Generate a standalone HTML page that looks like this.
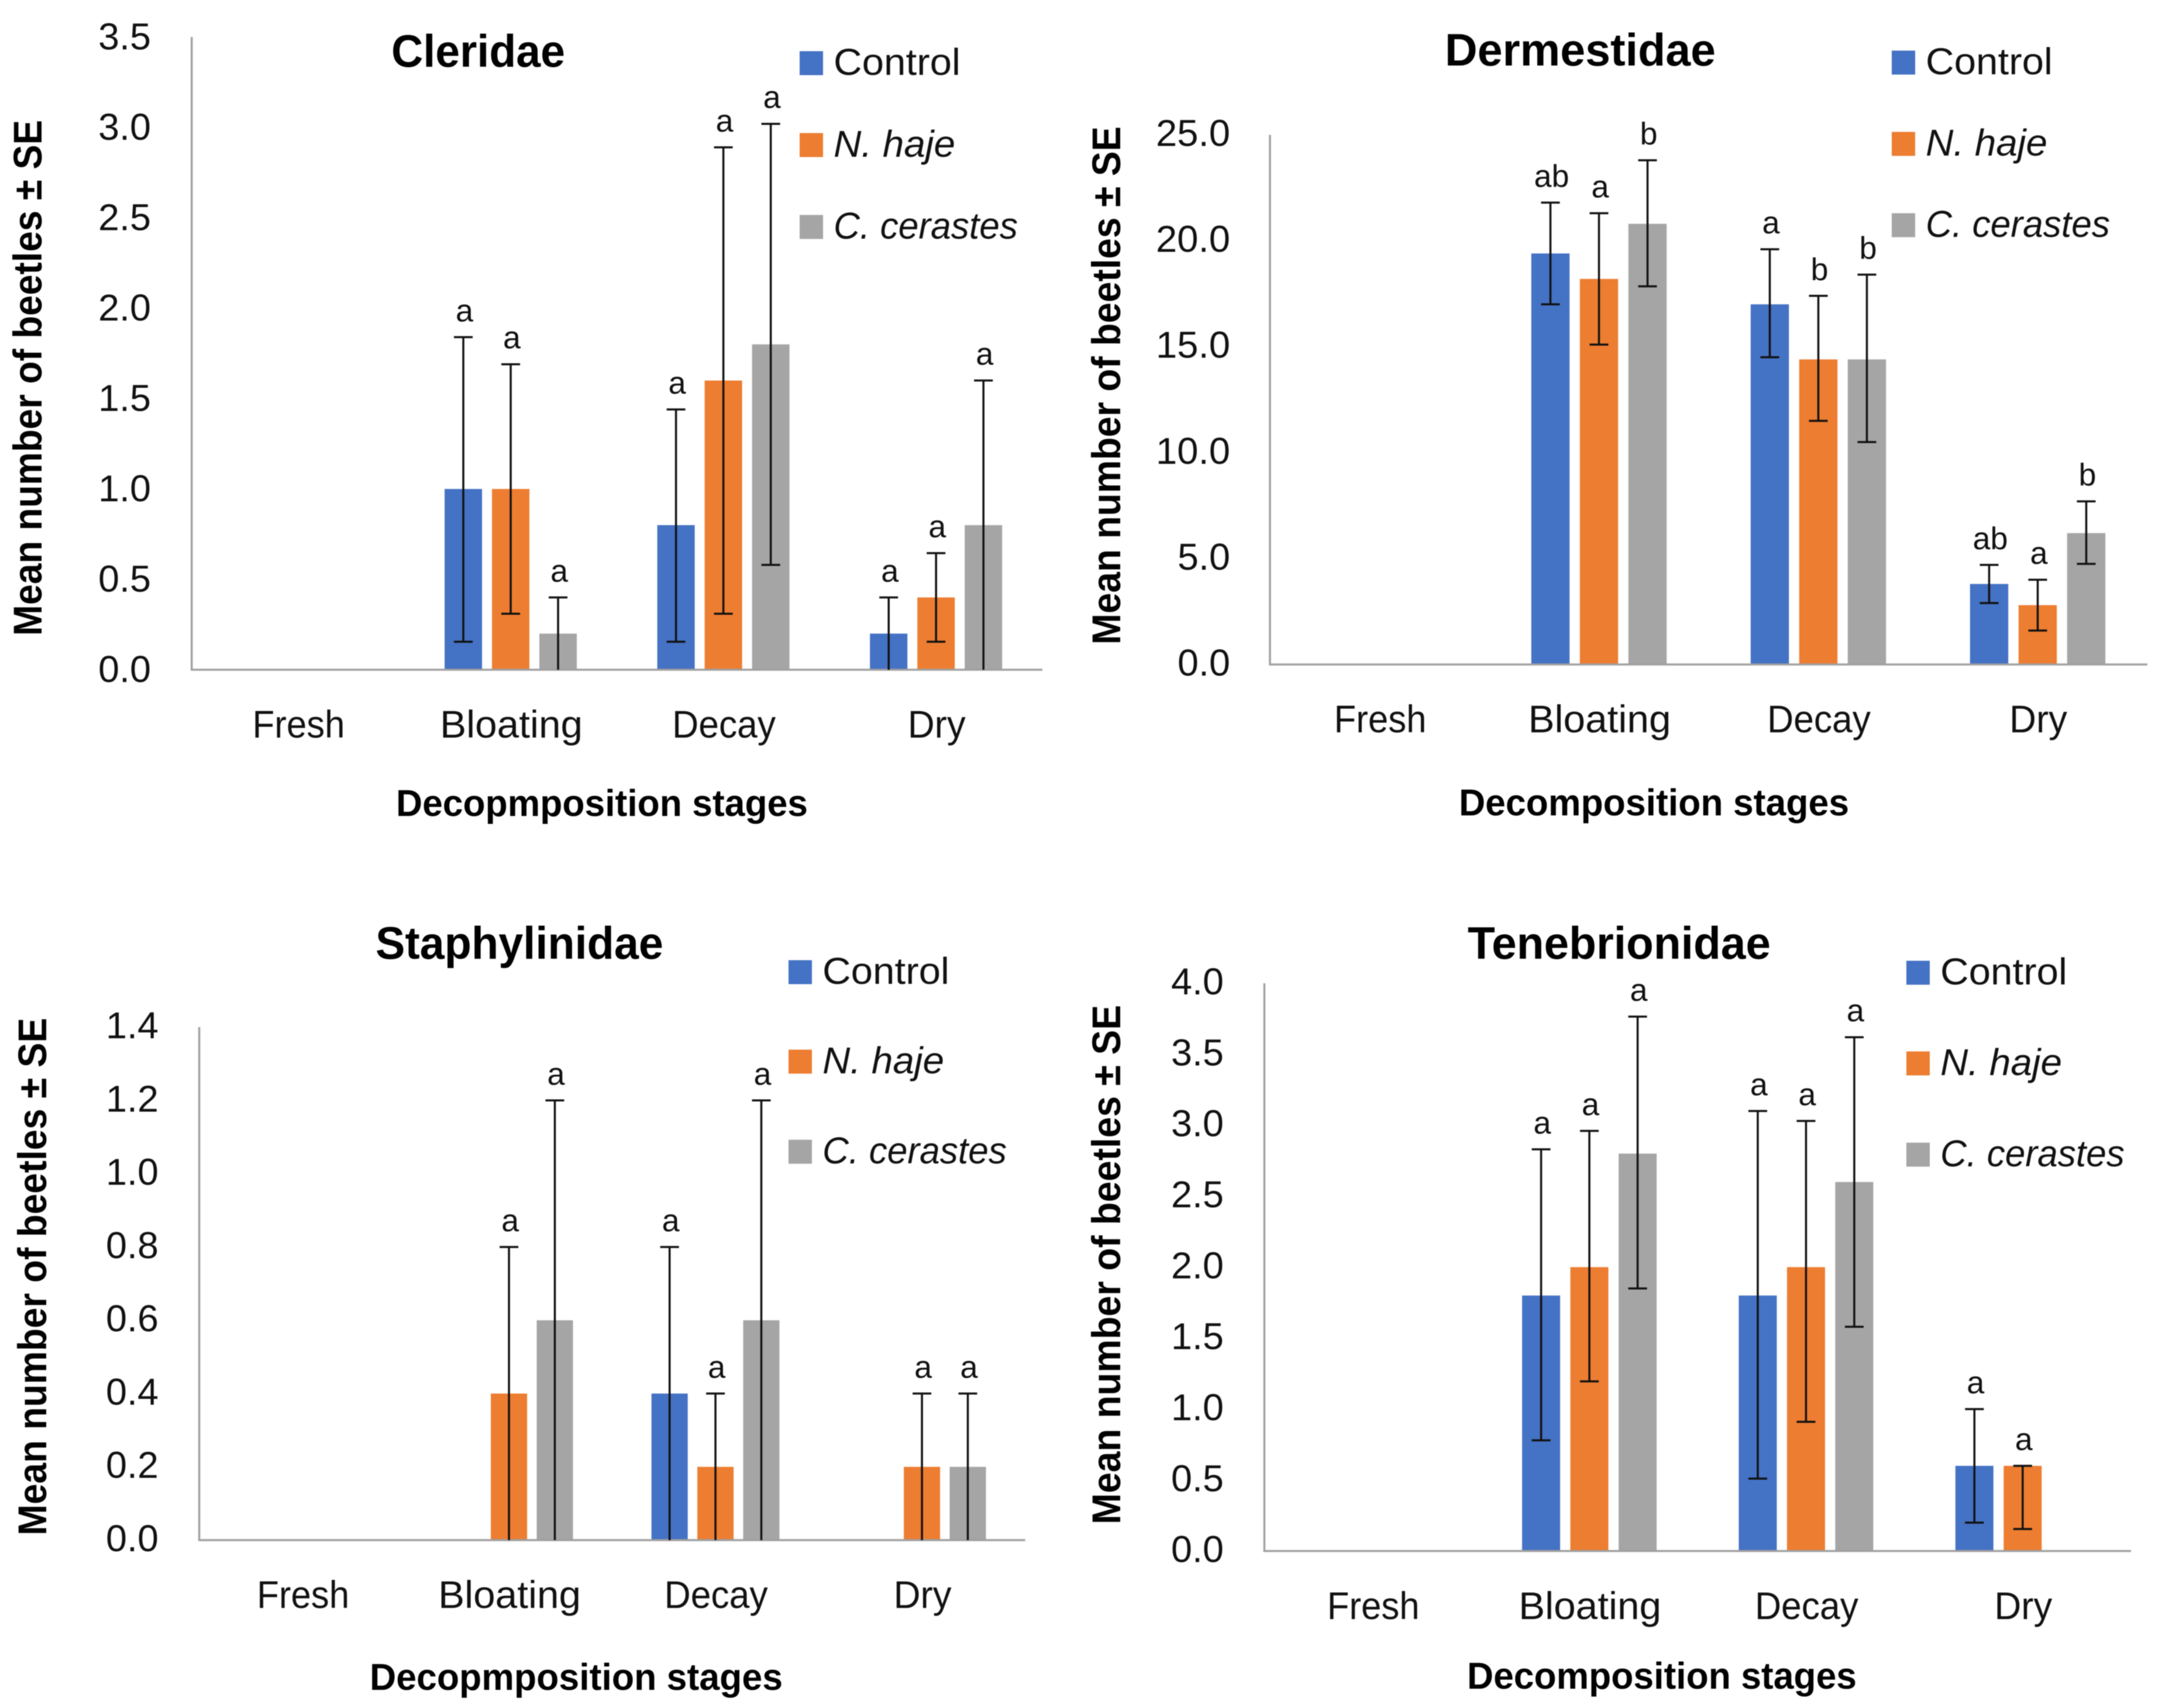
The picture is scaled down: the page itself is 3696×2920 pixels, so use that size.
<!DOCTYPE html>
<html lang="en">
<head>
<meta charset="utf-8">
<title>Mean number of beetles by decomposition stage</title>
<style>
html,body{margin:0;padding:0;background:#fff;}
svg{display:block;font-family:"Liberation Sans",sans-serif;filter:blur(0.7px);}
</style>
</head>
<body>
<svg id="figure" xmlns="http://www.w3.org/2000/svg" width="3696" height="2920" viewBox="0 0 3696 2920"></svg>
<script>
// ---- shared categories and series ----
const stages = ['Fresh', 'Bloating', 'Decay', 'Dry'];
const seriesNames = ['Control', 'N. haje', 'C. cerastes'];
const seriesColors = ['#4472C4', '#ED7D31', '#A5A5A5'];

// ---- Cleridae ----
const cleridaeTicks = [0, 0.5, 1, 1.5, 2, 2.5, 3, 3.5];
const cleridaeMeans = [[null, 1.0, 0.8, 0.2], [null, 1.0, 1.6, 0.4], [null, 0.2, 1.8, 0.8]];
const cleridaeHighs = [[null, 1.84, 1.44, 0.40], [null, 1.69, 2.89, 0.645], [null, 0.40, 3.02, 1.60]];
const cleridaeLows = [[null, 0.155, 0.155, 0], [null, 0.31, 0.31, 0.155], [null, 0, 0.58, 0]];
const cleridaeLetters = [[null, 'a', 'a', 'a'], [null, 'a', 'a', 'a'], [null, 'a', 'a', 'a']];

// ---- Dermestidae ----
const dermestidaeTicks = [0, 5, 10, 15, 20, 25];
const dermestidaeMeans = [[null, 19.4, 17.0, 3.8], [null, 18.2, 14.4, 2.8], [null, 20.8, 14.4, 6.2]];
const dermestidaeHighs = [[null, 21.8, 19.6, 4.7], [null, 21.3, 17.4, 4.0], [null, 23.8, 18.4, 7.7]];
const dermestidaeLows = [[null, 17.0, 14.5, 2.9], [null, 15.1, 11.5, 1.6], [null, 17.85, 10.5, 4.75]];
const dermestidaeLetters = [[null, 'ab', 'a', 'ab'], [null, 'a', 'b', 'a'], [null, 'b', 'b', 'b']];

// ---- Staphylinidae ----
const staphylinidaeTicks = [0, 0.2, 0.4, 0.6, 0.8, 1.0, 1.2, 1.4];
const staphylinidaeMeans = [[null, null, 0.4, null], [null, 0.4, 0.2, 0.2], [null, 0.6, 0.6, 0.2]];
const staphylinidaeHighs = [[null, null, 0.8, null], [null, 0.8, 0.4, 0.4], [null, 1.2, 1.2, 0.4]];
const staphylinidaeLows = [[null, null, 0, null], [null, 0, 0, 0], [null, 0, 0, 0]];
const staphylinidaeLetters = [[null, null, 'a', null], [null, 'a', 'a', 'a'], [null, 'a', 'a', 'a']];

// ---- Tenebrionidae ----
const tenebrionidaeTicks = [0, 0.5, 1, 1.5, 2, 2.5, 3, 3.5, 4];
const tenebrionidaeMeans = [[null, 1.8, 1.8, 0.6], [null, 2.0, 2.0, 0.6], [null, 2.8, 2.6, null]];
const tenebrionidaeHighs = [[null, 2.83, 3.10, 1.0], [null, 2.96, 3.03, 0.6], [null, 3.765, 3.62, null]];
const tenebrionidaeLows = [[null, 0.78, 0.51, 0.2], [null, 1.195, 0.91, 0.155], [null, 1.85, 1.58, null]];
const tenebrionidaeLetters = [[null, 'a', 'a', 'a'], [null, 'a', 'a', 'a'], [null, 'a', 'a', null]];

const SVG_NS = 'http://www.w3.org/2000/svg';
const figure = document.getElementById('figure');

function make(parent, tag, attrs, text) {
  const el = document.createElementNS(SVG_NS, tag);
  for (const key in attrs) el.setAttribute(key, attrs[key]);
  if (text !== undefined) el.textContent = text;
  parent.appendChild(el);
  return el;
}

const stageWidths = { Fresh: 158, Bloating: 244, Decay: 177, Dry: 99 };
const legendWidths = [215, 206, 313];

function drawChart(cfg, ticks, means, highs, lows, letters) {
  const group = make(figure, 'g', {});
  
  

  const maxValue = ticks[ticks.length - 1];
  const yScale = v => cfg.base - (v / maxValue) * (cfg.base - cfg.top);
  const bandWidth = (cfg.x1 - cfg.x0) / stages.length;
  const xBand = i => cfg.x0 + bandWidth * (i + 0.5);

  // title
  const title = make(group, 'text', { x: cfg.titleX, y: cfg.titleY, 'font-size': 78, 'font-weight': 700, fill: '#000', textLength: cfg.titleW, lengthAdjust: 'spacingAndGlyphs' }, cfg.title);
  
  

  // y axis title
  const yTitle = make(group, 'text', { transform: 'translate(' + cfg.yTitleX + ',' + cfg.yTitleY + ') rotate(-90)', x: 0, y: 0, 'font-size': 69, 'font-weight': 700, fill: '#000', textLength: cfg.yTitleW, lengthAdjust: 'spacingAndGlyphs' }, 'Mean number of beetles \u00B1 SE');
  
  

  // x axis title
  const xTitle = make(group, 'text', { x: cfg.xTitleX, y: cfg.xTitleY, 'font-size': 64, 'font-weight': 700, fill: '#000', textLength: cfg.xTitleW, lengthAdjust: 'spacingAndGlyphs' }, cfg.xTitle);
  
  

  // y tick labels
  ticks.forEach(t => {
    const label = t.toFixed(1);
    const w = label.length > 3 ? 127 : 90;
    const tickLabel = make(group, 'text', { x: cfg.tickRight - w, y: yScale(t) + 22 + cfg.tickNudge, 'font-size': 64, fill: '#111', textLength: w, lengthAdjust: 'spacingAndGlyphs' }, label);
    
    
  });

  // category labels
  stages.forEach((s, i) => {
    const w = stageWidths[s];
    const catLabel = make(group, 'text', { x: xBand(i) - w / 2 + 1, y: cfg.catY, 'font-size': 66, fill: '#111', textLength: w, lengthAdjust: 'spacingAndGlyphs' }, s);
    
    
  });

  // bars
  means.forEach((row, si) => {
    row.forEach((v, ci) => {
      if (v === null) return;
      const cx = xBand(ci) + (si - 1) * cfg.pitch;
      const bar = make(group, 'rect', { x: cx - cfg.barW / 2, y: yScale(v), width: cfg.barW, height: cfg.base - yScale(v), fill: seriesColors[si] });
      
      
    });
  });

  // axes
  const yAxis = make(group, 'line', { x1: cfg.x0, x2: cfg.x0, y1: cfg.top, y2: cfg.base + 1.5, stroke: '#A0A0A0', 'stroke-width': 3.5 });
  
  
  const xAxis = make(group, 'line', { x1: cfg.x0 - 1.5, x2: cfg.x1, y1: cfg.base, y2: cfg.base, stroke: '#A0A0A0', 'stroke-width': 3.5 });
  
  

  // error bars and significance letters
  highs.forEach((row, si) => {
    row.forEach((hi, ci) => {
      if (hi === null) return;
      const lo = lows[si][ci];
      const cx = xBand(ci) + (si - 1) * cfg.pitch;
      const err = make(group, 'path', {
        d: 'M' + cx + ' ' + yScale(hi) + 'V' + yScale(lo) +
           'M' + (cx - 16) + ' ' + yScale(hi) + 'H' + (cx + 16) +
           (lo > 0 ? 'M' + (cx - 16) + ' ' + yScale(lo) + 'H' + (cx + 16) : ''),
        stroke: '#111', 'stroke-width': 3.5, fill: 'none'
      });
      
      

      const letter = letters[si][ci];
      if (letter) {
        const mark = make(group, 'text', { x: cx + 2, y: yScale(hi) - 27, 'font-size': 54, fill: '#111', 'text-anchor': 'middle' }, letter);
        
        
      }
    });
  });

  // legend
  seriesNames.forEach((name, si) => {
    const cy = cfg.legendY[si];
    const entry = make(group, 'g', {});
    
    
    const swatch = make(entry, 'rect', { x: cfg.legendX, y: cy - 20.5, width: 40, height: 41, fill: seriesColors[si] });
    
    
    const attrs = { x: cfg.legendX + 58, y: cy + 20, 'font-size': 64, fill: '#111', textLength: legendWidths[si] + 2, lengthAdjust: 'spacingAndGlyphs' };
    if (si > 0) attrs['font-style'] = 'italic';
    const legendLabel = make(entry, 'text', attrs, name);
    
    
  });
}

drawChart({
  slug: 'cleridae', title: 'Cleridae', titleX: 669, titleY: 114, titleW: 297,
  x0: 327.7, x1: 1782, top: 63.4, base: 1145, barW: 64, pitch: 81,
  tickRight: 258, tickNudge: -1, yTitleX: 71, yTitleY: 1087, yTitleW: 882,
  catY: 1261, xTitle: 'Decopmposition stages', xTitleX: 677, xTitleY: 1395, xTitleW: 704,
  legendX: 1367, legendY: [108, 248, 388]
}, cleridaeTicks, cleridaeMeans, cleridaeHighs, cleridaeLows, cleridaeLetters);

drawChart({
  slug: 'dermestidae', title: 'Dermestidae', titleX: 2470, titleY: 112, titleW: 463,
  x0: 2171, x1: 3671, top: 230.5, base: 1136, barW: 65.4, pitch: 83,
  tickRight: 2103, tickNudge: -3, yTitleX: 1915, yTitleY: 1102, yTitleW: 886,
  catY: 1252, xTitle: 'Decomposition stages', xTitleX: 2494, xTitleY: 1394, xTitleW: 667,
  legendX: 3234, legendY: [107, 246, 385]
}, dermestidaeTicks, dermestidaeMeans, dermestidaeHighs, dermestidaeLows, dermestidaeLetters);

drawChart({
  slug: 'staphylinidae', title: 'Staphylinidae', titleX: 642, titleY: 1639, titleW: 492,
  x0: 340.6, x1: 1752.6, top: 1756, base: 2633, barW: 62, pitch: 78.4,
  tickRight: 271, tickNudge: -3, yTitleX: 79, yTitleY: 2625, yTitleW: 885,
  catY: 2749, xTitle: 'Decopmposition stages', xTitleX: 632, xTitleY: 2889, xTitleW: 706,
  legendX: 1348, legendY: [1662, 1815, 1969]
}, staphylinidaeTicks, staphylinidaeMeans, staphylinidaeHighs, staphylinidaeLows, staphylinidaeLetters);

drawChart({
  slug: 'tenebrionidae', title: 'Tenebrionidae', titleX: 2509, titleY: 1639, titleW: 518,
  x0: 2161.5, x1: 3643, top: 1681, base: 2651.6, barW: 65, pitch: 82.5,
  tickRight: 2092, tickNudge: -3, yTitleX: 1915, yTitleY: 2606, yTitleW: 888,
  catY: 2768, xTitle: 'Decomposition stages', xTitleX: 2508, xTitleY: 2887, xTitleW: 666,
  legendX: 3259, legendY: [1663, 1818, 1974]
}, tenebrionidaeTicks, tenebrionidaeMeans, tenebrionidaeHighs, tenebrionidaeLows, tenebrionidaeLetters);
</script>
</body>
</html>
